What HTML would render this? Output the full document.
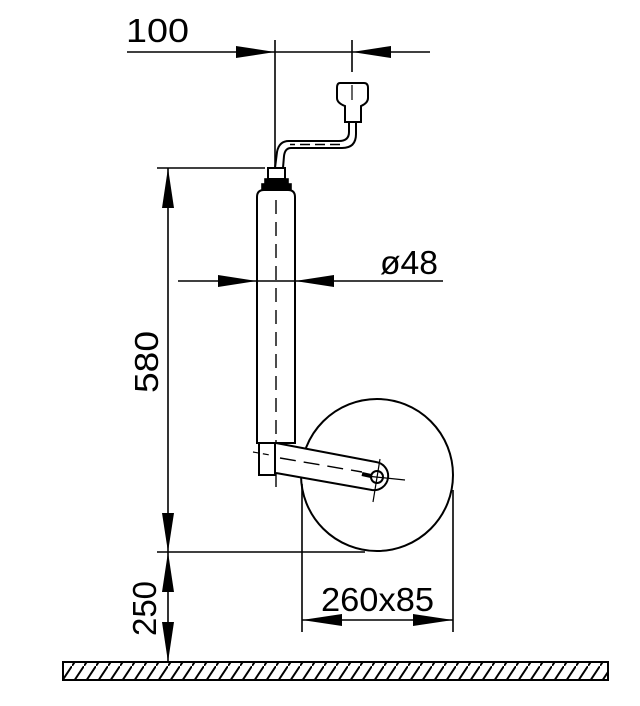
<!DOCTYPE html>
<html><head><style>html,body{margin:0;padding:0;background:#fff}svg{display:block}</style></head><body>
<svg width="640" height="706" viewBox="0 0 640 706" xmlns="http://www.w3.org/2000/svg" font-family="Liberation Sans, DejaVu Sans, sans-serif">
<defs>
<pattern id="h" width="12" height="18" patternUnits="userSpaceOnUse">
<line x1="12" y1="0" x2="0" y2="18" stroke="#000" stroke-width="2"/>
</pattern>
</defs>
<g stroke="#000" fill="none" stroke-width="1.6">
<!-- top dim -->
<line x1="127" y1="52" x2="430" y2="52"/>
<line x1="275" y1="40" x2="275" y2="168"/>
<line x1="352" y1="40" x2="352" y2="72"/>
<line x1="352" y1="85" x2="352" y2="100" stroke-width="1.2"/>
<!-- handle knob -->
<path d="M340 83 H364 Q368 83 368 88 V98 Q368 103 361 106 V122 H345 V106 Q337 103 337 98 V88 Q337 83 340 83 Z" stroke-width="2"/>
<!-- rod -->
<path d="M349 122 V132 Q349 141 339 141 H289 Q279 141 277 152 L275 168" stroke-width="2"/>
<path d="M356 122 V134 Q356 148 342 148 H291 Q285 148 284 156 L283 168" stroke-width="2"/>
<line x1="340" y1="144.5" x2="290" y2="144.5" stroke-dasharray="10 5" stroke-width="1.4"/>
<!-- cap -->
<rect x="268" y="168" width="17" height="11" stroke-width="2"/>
<rect x="265" y="179" width="23" height="4" fill="#000"/>
<rect x="262" y="184" width="29" height="5" fill="#000"/>
<!-- tube -->
<path d="M257 443 V197 Q257 190 264 190 H288 Q295 190 295 197 V443 Z" stroke-width="2"/>
<line x1="276" y1="200" x2="276" y2="445" stroke-dasharray="14 8" stroke-width="1.4"/>
<!-- box -->
<rect x="259" y="443" width="16" height="32" stroke-width="2"/>
<line x1="276" y1="440" x2="276" y2="487" stroke-width="1.4"/>
<line x1="253" y1="452" x2="270" y2="455" stroke-dasharray="6 4" stroke-width="1.2"/>
<!-- wheel -->
<circle cx="377" cy="475" r="76" stroke-width="2"/>
<!-- arm -->
<path d="M276 443 L376 462 A13 13 0 0 1 372 490 L276 473" fill="#fff" stroke-width="2"/>
<line x1="280" y1="458" x2="362" y2="472" stroke-dasharray="16 8" stroke-width="1.4"/>
<circle cx="377" cy="477" r="6" stroke-width="2"/>
<line x1="362" y1="474" x2="371" y2="476" stroke-width="4"/>
<line x1="380" y1="459" x2="373" y2="502" stroke-width="1.2"/>
<line x1="366" y1="476" x2="405" y2="480" stroke-width="1.2"/>
<!-- ø48 dim -->
<line x1="178" y1="281" x2="443" y2="281"/>
<!-- vertical dims -->
<line x1="157" y1="168" x2="265" y2="168"/>
<line x1="157" y1="552" x2="365" y2="552"/>
<line x1="168" y1="168" x2="168" y2="662"/>
<!-- wheel dims -->
<line x1="302" y1="484" x2="302" y2="632"/>
<line x1="453" y1="490" x2="453" y2="632"/>
<line x1="302" y1="620" x2="453" y2="620"/>
<!-- ground -->
<rect x="63" y="662" width="545" height="18" fill="url(#h)" stroke-width="2"/>
</g>
<g fill="#000">
<polygon points="275,52 236,46 236,58"/>
<polygon points="352,52 391,46 391,58"/>
<polygon points="257,281 218,275 218,287"/>
<polygon points="295,281 334,275 334,287"/>
<polygon points="168,168 162,208 174,208"/>
<polygon points="168,552 162,513 174,513"/>
<polygon points="168,552 162,592 174,592"/>
<polygon points="168,662 162,622 174,622"/>
<polygon points="302,620 342,614 342,626"/>
<polygon points="453,620 413,614 413,626"/>
</g>
<g fill="#000" font-size="33">
<text x="126" y="42" textLength="63" lengthAdjust="spacingAndGlyphs">100</text>
<text x="380" y="274" textLength="58" lengthAdjust="spacingAndGlyphs">ø48</text>
<text x="321" y="611" textLength="113" lengthAdjust="spacingAndGlyphs">260x85</text>
<text transform="translate(158,393) rotate(-90)" textLength="62" lengthAdjust="spacingAndGlyphs">580</text>
<text transform="translate(156,636) rotate(-90)" textLength="55" lengthAdjust="spacingAndGlyphs">250</text>
</g>
</svg>
</body></html>
